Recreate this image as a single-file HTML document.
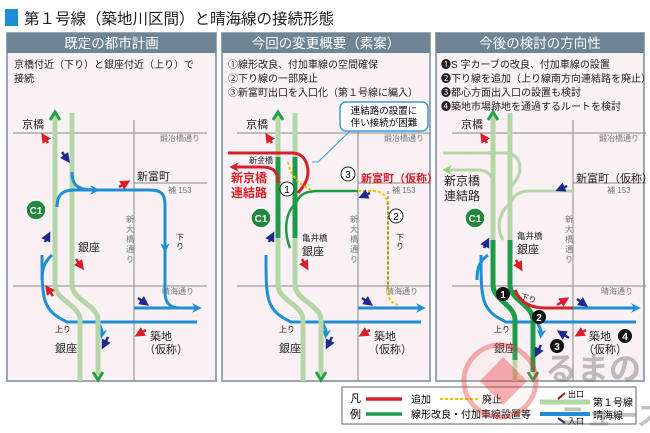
<!DOCTYPE html>
<html><head><meta charset="utf-8"><style>
html,body{margin:0;padding:0;background:#fff;}
svg{display:block;font-family:"Liberation Sans","Noto Sans CJK JP",sans-serif;}
</style></head><body>
<svg width="650" height="433" viewBox="0 0 650 433" xmlns="http://www.w3.org/2000/svg">
<defs>
<marker id="ab" viewBox="0 0 10 10" refX="5" refY="5" markerWidth="3.2" markerHeight="3.2" orient="auto"><path d="M0,0 L10,5 L0,10 L3,5z" fill="#1e8fd6"/></marker>
<marker id="ag" viewBox="0 0 10 10" refX="5" refY="5" markerWidth="3.2" markerHeight="3.2" orient="auto"><path d="M0,0 L10,5 L0,10 L3,5z" fill="#22a045"/></marker>
<marker id="alg" viewBox="0 0 10 10" refX="5" refY="5" markerWidth="3.2" markerHeight="3.2" orient="auto"><path d="M0,0 L10,5 L0,10 L3,5z" fill="#8fce7a"/></marker>
<marker id="ar" viewBox="0 0 10 10" refX="5" refY="5" markerWidth="3.2" markerHeight="3.2" orient="auto"><path d="M0,0 L10,5 L0,10 L3,5z" fill="#d9202a"/></marker>
<marker id="ak" viewBox="0 0 10 10" refX="5" refY="5" markerWidth="3.5" markerHeight="3.5" orient="auto"><path d="M0,0 L10,5 L0,10 L3,5z" fill="#555"/></marker>
<marker id="sr" viewBox="0 0 10 10" refX="5" refY="5" markerWidth="4" markerHeight="4" orient="auto"><path d="M0,0 L10,5 L0,10z" fill="#d9202a"/></marker>
<marker id="sn" viewBox="0 0 10 10" refX="5" refY="5" markerWidth="4" markerHeight="4" orient="auto"><path d="M0,0 L10,5 L0,10z" fill="#1d2a8c"/></marker>
<g id="base">
 <line x1="13" y1="133" x2="207" y2="133" stroke="#888" stroke-width="1"/>
 <line x1="134" y1="183" x2="207" y2="183" stroke="#888" stroke-width="1"/>
 <line x1="13" y1="286" x2="207" y2="286" stroke="#888" stroke-width="1"/>
 <line x1="134" y1="120" x2="134" y2="381" stroke="#888" stroke-width="1"/>
 <text x="160" y="141" font-size="8" fill="#777">鍛冶橋通り</text>
 <text x="168" y="193" font-size="8" fill="#777">補 153</text>
 <text x="162" y="294" font-size="8" fill="#777">晴海通り</text>
 <text font-size="8" fill="#777"><tspan x="126" y="222">新</tspan><tspan x="126" y="232">大</tspan><tspan x="126" y="242">橋</tspan><tspan x="126" y="252">通</tspan><tspan x="126" y="262">り</tspan></text>
 <text x="22" y="128" font-size="11" fill="#222">京橋</text>
 <text x="55" y="352" font-size="11" fill="#222">銀座</text>
 <text x="150" y="340" font-size="11" fill="#222">築地</text>
 <text x="144" y="353" font-size="11" fill="#222">（仮称）</text>
 <text x="55" y="332" font-size="8" fill="#222">上り</text>
 <path d="M42,255 C42,300 42,310 67,322 L197,322" fill="none" stroke="#1e8fd6" stroke-width="3"/>
 <path d="M100,322 C96,324 103,326 102,334" fill="none" stroke="#1e8fd6" stroke-width="3" marker-end="url(#ab)"/>
 <line x1="75" y1="318" x2="62" y2="317" stroke="#1e8fd6" stroke-width="0.1" marker-end="url(#ab)"/>
 <line x1="134" y1="308" x2="197" y2="308" stroke="#1e8fd6" stroke-width="3" marker-end="url(#ab)"/>
</g>
</defs>

<rect x="5" y="9" width="13" height="17" fill="#1e8fd6"/>
<text x="24" y="24" font-size="15.5" fill="#222">第１号線（築地川区間）と晴海線の接続形態</text>

<g>
<rect x="7" y="33" width="209" height="348" fill="#faf1f5" stroke="#9aa6b0" stroke-width="2"/>
<rect x="7" y="33" width="209" height="20" fill="#6f8494"/>
<text x="111.5" y="48" font-size="13.5" fill="#fff" text-anchor="middle">既定の都市計画</text>
<rect x="222" y="33" width="208" height="348" fill="#faf1f5" stroke="#9aa6b0" stroke-width="2"/>
<rect x="222" y="33" width="208" height="20" fill="#6f8494"/>
<text x="326" y="48" font-size="13.5" fill="#fff" text-anchor="middle">今回の変更概要（素案）</text>
<rect x="436" y="33" width="208" height="348" fill="#faf1f5" stroke="#9aa6b0" stroke-width="2"/>
<rect x="436" y="33" width="208" height="20" fill="#6f8494"/>
<text x="540" y="48" font-size="13.5" fill="#fff" text-anchor="middle">今後の検討の方向性</text>
</g>

<text font-size="10" fill="#222"><tspan x="14" y="68">京橋付近（下り）と銀座付近（上り）で</tspan><tspan x="14" y="82">接続</tspan></text>
<text font-size="10" fill="#222"><tspan x="228" y="68">①線形改良、付加車線の空間確保</tspan><tspan x="228" y="82">②下り線の一部廃止</tspan><tspan x="228" y="96">③新富町出口を入口化（第１号線に編入）</tspan></text>
<text font-size="10" fill="#222"><tspan x="441" y="68">❶S 字カーブの改良、付加車線の設置</tspan><tspan x="441" y="82">❷下り線を追加（上り線南方向連結路を廃止）</tspan><tspan x="441" y="96">❸都心方面出入口の設置も検討</tspan><tspan x="441" y="110">❹築地市場跡地を通過するルートを検討</tspan></text>

<!-- PANEL 1 -->
<use href="#base"/>
<path d="M55,113 L55,285 C55,300 80,305 80,320 L80,381" fill="none" stroke="#b5d6a7" stroke-width="5"/>
<path d="M72,113 L72,285 C72,300 98,305 98,320 L98,375" fill="none" stroke="#b5d6a7" stroke-width="5"/>
<path d="M50,120 L55,112 L60,120" fill="none" stroke="#22a045" stroke-width="3"/>
<path d="M93,372 L98,380 L103,372" fill="none" stroke="#22a045" stroke-width="3"/>
<path d="M72,172 C72,186 78,190 95,190" fill="none" stroke="#1e8fd6" stroke-width="3" marker-end="url(#ab)"/>
<path d="M57,207 C57,195 62,190 75,190 L150,190 C162,190 165,195 165,205 L165,292 C165,303 170,308 180,308" fill="none" stroke="#1e8fd6" stroke-width="3"/>
<line x1="165" y1="236" x2="165" y2="248" stroke="#1e8fd6" stroke-width="3" marker-end="url(#ab)"/>
<path d="M52,255 C44,262 42,270 42,280" fill="none" stroke="#1e8fd6" stroke-width="3"/>
<text x="176" y="240" font-size="8" fill="#222">下</text><text x="176" y="249" font-size="8" fill="#222">り</text>
<text x="137" y="180" font-size="11" fill="#222">新富町</text>
<text x="78" y="251" font-size="11" fill="#222">銀座</text>
<circle cx="36" cy="210" r="10" fill="#22873d" stroke="#fff" stroke-width="1.5"/><text x="36" y="214" font-size="10" fill="#fff" text-anchor="middle" font-weight="bold">C1</text>
<g stroke-width="2.5" fill="none">
<line x1="48" y1="143" x2="44" y2="137" stroke="#d9202a" marker-end="url(#sr)"/>
<line x1="62" y1="152" x2="67" y2="159" stroke="#1d2a8c" marker-end="url(#sn)"/>
<line x1="119" y1="187" x2="126" y2="183" stroke="#d9202a" marker-end="url(#sr)"/>
<line x1="45" y1="242" x2="48" y2="236" stroke="#1d2a8c" marker-end="url(#sn)"/>
<line x1="76" y1="259" x2="81" y2="266" stroke="#d9202a" marker-end="url(#sr)"/>
<line x1="47" y1="290" x2="52" y2="297" stroke="#d9202a" transform="rotate(180 50 293)" marker-end="url(#sr)"/>
<line x1="138" y1="298" x2="145" y2="303" stroke="#1d2a8c" marker-end="url(#sn)"/>
<line x1="146" y1="330" x2="139" y2="334" stroke="#d9202a" marker-end="url(#sr)"/>
<line x1="108" y1="337" x2="104" y2="345" stroke="#1d2a8c" marker-end="url(#sn)"/>
</g>

<!-- PANEL 2 -->
<g transform="translate(224,0)"><use href="#base"/></g>
<path d="M278,113 L278,285 C278,300 303,305 303,320 L303,381" fill="none" stroke="#b5d6a7" stroke-width="5"/>
<path d="M295,113 L295,285 C295,300 321,305 321,320 L321,375" fill="none" stroke="#b5d6a7" stroke-width="5"/>
<path d="M273,120 L278,112 L283,120" fill="none" stroke="#22a045" stroke-width="3"/>
<path d="M316,372 L321,380 L326,372" fill="none" stroke="#22a045" stroke-width="3"/>
<line x1="278" y1="157" x2="278" y2="238" stroke="#1f9a48" stroke-width="5"/>
<line x1="295" y1="157" x2="295" y2="238" stroke="#1f9a48" stroke-width="5"/>
<path d="M290,248 C285,235 283,215 296,203 C300,194 305,191 320,191 L358,191" fill="none" stroke="#1f9a48" stroke-width="2.5"/>
<line x1="333" y1="191" x2="322" y2="191" stroke="#1f9a48" stroke-width="0.1" marker-end="url(#ag)"/>
<path d="M228,153 L292,153 C305,153 308,165 308,172 C308,183 300,190 298,193" fill="none" stroke="#d9202a" stroke-width="3"/>
<line x1="240" y1="153" x2="258" y2="153" stroke="#d9202a" stroke-width="0.1" marker-end="url(#ar)"/>
<path d="M278,183 C278,172 274,167 262,167 L234,167" fill="none" stroke="#d9202a" stroke-width="3" marker-end="url(#ar)"/>
<path d="M358,191 L372,191 C385,191 388,198 388,210 L388,290 C388,300 392,303 398,305" fill="none" stroke="#e8c400" stroke-width="2" stroke-dasharray="3,2"/>
<path d="M388,191 L388,290" fill="none" stroke="#222" stroke-width="0.6" stroke-dasharray="3,2"/>
<line x1="388" y1="245" x2="388" y2="254" stroke="#555" stroke-width="0.1" marker-end="url(#ak)"/>
<path d="M288,162 C290,175 300,186 312,190" fill="none" stroke="#e8c400" stroke-width="2" stroke-dasharray="3,2"/>
<text x="396" y="240" font-size="8" fill="#222">下</text><text x="396" y="249" font-size="8" fill="#222">り</text>
<text x="249" y="163" font-size="8" fill="#222">新金橋</text>
<text x="231" y="182" font-size="12" font-weight="bold" fill="#d9202a">新京橋</text>
<text x="231" y="197" font-size="12" font-weight="bold" fill="#d9202a">連結路</text>
<text x="361" y="182" font-size="11" font-weight="bold" fill="#d9202a">新富町（仮称）</text>
<text x="302" y="241" font-size="8.5" fill="#222">亀井橋</text>
<text x="302" y="255" font-size="11" fill="#222">銀座</text>
<circle cx="287" cy="189" r="7" fill="#fff" stroke="#222"/><text x="287" y="193" font-size="10" text-anchor="middle">1</text>
<circle cx="348" cy="174" r="7" fill="#fff" stroke="#222"/><text x="348" y="178" font-size="10" text-anchor="middle">3</text>
<circle cx="396" cy="216" r="7" fill="#fff" stroke="#222"/><text x="396" y="220" font-size="10" text-anchor="middle">2</text>
<circle cx="261" cy="218" r="10" fill="#22873d" stroke="#fff" stroke-width="1.5"/><text x="261" y="222" font-size="10" fill="#fff" text-anchor="middle" font-weight="bold">C1</text>
<rect x="340" y="102" width="88" height="29" rx="6" fill="#fff" stroke="#3a9ad9" stroke-width="1.5"/>
<text x="384" y="114" font-size="9.5" text-anchor="middle">連結路の設置に</text>
<text x="384" y="126" font-size="9.5" text-anchor="middle">伴い接続が困難</text>
<path d="M350,131 L318,162 L312,162" fill="none" stroke="#3a9ad9" stroke-width="1"/>
<g stroke-width="2.5" fill="none">
<line x1="272" y1="143" x2="268" y2="137" stroke="#d9202a" marker-end="url(#sr)"/>
<line x1="370" y1="193" x2="363" y2="196" stroke="#1d2a8c" marker-end="url(#sn)"/>
<line x1="269" y1="242" x2="272" y2="236" stroke="#1d2a8c" marker-end="url(#sn)"/>
<line x1="302" y1="259" x2="306" y2="266" stroke="#d9202a" marker-end="url(#sr)"/>
<line x1="362" y1="298" x2="369" y2="303" stroke="#1d2a8c" marker-end="url(#sn)"/>
<line x1="370" y1="330" x2="363" y2="334" stroke="#d9202a" marker-end="url(#sr)"/>
<line x1="332" y1="337" x2="328" y2="345" stroke="#1d2a8c" marker-end="url(#sn)"/>
</g>

<!-- PANEL 3 -->
<g transform="translate(439,0)"><use href="#base"/></g>
<path d="M493,113 L493,240" fill="none" stroke="#b5d6a7" stroke-width="5"/>
<path d="M510,113 L510,240" fill="none" stroke="#b5d6a7" stroke-width="5"/>
<path d="M493,240 L493,285 C493,300 515,305 515,320 L515,360" fill="none" stroke="#1f9a48" stroke-width="5"/>
<path d="M510,240 L510,285 C510,300 533,305 533,320 L533,372" fill="none" stroke="#1f9a48" stroke-width="5"/>
<line x1="515" y1="360" x2="515" y2="381" stroke="#b5d6a7" stroke-width="5"/>
<path d="M488,120 L493,112 L498,120" fill="none" stroke="#22a045" stroke-width="3"/>
<path d="M528,372 L533,380 L538,372" fill="none" stroke="#22a045" stroke-width="3"/>
<path d="M443,153 L505,153 C515,153 520,160 520,168 C520,178 512,185 510,188" fill="none" stroke="#b5d6a7" stroke-width="3"/>
<line x1="458" y1="153" x2="472" y2="153" stroke="#8fce7a" stroke-width="0.1" marker-end="url(#alg)"/>
<path d="M493,185 C493,176 488,170 478,170 L447,170" fill="none" stroke="#b5d6a7" stroke-width="3" marker-end="url(#alg)"/>
<path d="M503,240 C497,230 497,215 510,203 C515,194 520,191 530,191 L573,191" fill="none" stroke="#b5d6a7" stroke-width="3"/>
<line x1="548" y1="191" x2="538" y2="191" stroke="#8fce7a" stroke-width="0.1" marker-end="url(#alg)"/>
<path d="M515,290 C520,302 530,308 545,308 L573,308" fill="none" stroke="#d9202a" stroke-width="3"/>
<path d="M488,255 C478,262 477,270 477,280" fill="none" stroke="#1e8fd6" stroke-width="3"/>
<text x="444" y="185" font-size="12" fill="#222">新京橋</text>
<text x="444" y="200" font-size="12" fill="#222">連結路</text>
<text x="576" y="182" font-size="11" fill="#222">新富町（仮称）</text>
<text x="517" y="239" font-size="8.5" fill="#222">亀井橋</text>
<text x="517" y="253" font-size="11" fill="#222">銀座</text>
<text x="520" y="299" font-size="8" fill="#222" transform="rotate(15 520 299)">下り</text>
<circle cx="475" cy="218" r="10" fill="#22873d" stroke="#fff" stroke-width="1.5"/><text x="475" y="222" font-size="10" fill="#fff" text-anchor="middle" font-weight="bold">C1</text>
<g font-size="10" font-weight="bold" fill="#fff" text-anchor="middle">
<circle cx="503" cy="294" r="7" fill="#111"/><text x="503" y="298">1</text>
<circle cx="539" cy="317" r="7" fill="#111"/><text x="539" y="321">2</text>
<circle cx="557" cy="346" r="7" fill="#111"/><text x="557" y="350">3</text>
<circle cx="625" cy="336" r="7" fill="#111"/><text x="625" y="340">4</text>
</g>
<g stroke-width="2.5" fill="none">
<line x1="487" y1="143" x2="483" y2="137" stroke="#d9202a" marker-end="url(#sr)"/>
<line x1="567" y1="186" x2="560" y2="189" stroke="#1d2a8c" marker-end="url(#sn)"/>
<line x1="484" y1="248" x2="487" y2="242" stroke="#1d2a8c" marker-end="url(#sn)"/>
<line x1="516" y1="260" x2="520" y2="267" stroke="#d9202a" marker-end="url(#sr)"/>
<line x1="557" y1="305" x2="565" y2="300" stroke="#d9202a" marker-end="url(#sr)"/>
<line x1="577" y1="299" x2="584" y2="304" stroke="#1d2a8c" marker-end="url(#sn)"/>
<line x1="569" y1="338" x2="561" y2="333" stroke="#1d2a8c" marker-end="url(#sn)"/>
<line x1="586" y1="330" x2="579" y2="334" stroke="#d9202a" marker-end="url(#sr)"/>
<line x1="541" y1="345" x2="537" y2="353" stroke="#1d2a8c" marker-end="url(#sn)"/>
</g>

<!-- legend -->
<rect x="342" y="387" width="294" height="37" fill="#fff" stroke="#666" stroke-width="1"/>
<text x="350" y="402" font-size="11">凡</text><text x="350" y="418" font-size="11">例</text>
<line x1="366" y1="399" x2="402" y2="399" stroke="#d9202a" stroke-width="3.5"/>
<text x="411" y="403" font-size="10">追加</text>
<line x1="440" y1="399" x2="478" y2="399" stroke="#e8c400" stroke-width="2" stroke-dasharray="3,2"/>
<text x="482" y="403" font-size="10">廃止</text>
<line x1="366" y1="414" x2="402" y2="414" stroke="#1f9a48" stroke-width="3.5"/>
<text x="411" y="418" font-size="10">線形改良・付加車線設置等</text>
<line x1="540" y1="402" x2="590" y2="402" stroke="#b5d6a7" stroke-width="5"/>
<line x1="540" y1="414" x2="590" y2="414" stroke="#1e8fd6" stroke-width="4"/>
<line x1="558" y1="399" x2="565" y2="393" stroke="#8b1a1a" stroke-width="2"/>
<line x1="558" y1="418" x2="565" y2="423" stroke="#1d2a8c" stroke-width="2"/>
<text x="568" y="397" font-size="8">出口</text>
<text x="568" y="424" font-size="8">入口</text>
<text x="593" y="406" font-size="10">第１号線</text>
<text x="593" y="419" font-size="10">晴海線</text>

<!-- watermark -->
<g opacity="0.4">
<circle cx="500" cy="381" r="36" fill="#f8c0c0" fill-opacity="0.3" stroke="#e83c3c" stroke-width="5"/>
<path d="M503,357 L480,381 L503,405 L527,381 Z" fill="#e83c3c"/>
<text x="545" y="380" font-size="32" font-weight="bold" fill="#666">るまの</text>
<text x="560" y="425" font-size="26" font-weight="bold" fill="#666">ニュース</text>
</g>
</svg>
</body></html>
